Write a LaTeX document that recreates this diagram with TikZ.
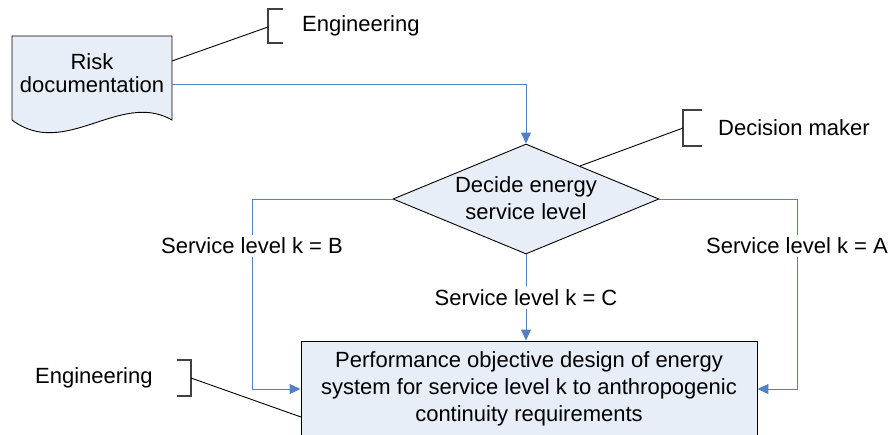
\documentclass[tikz,border=0pt]{standalone}
\usepackage{fontspec}
\setmainfont{Liberation Sans}
\usetikzlibrary{arrows.meta,shapes.geometric}
\definecolor{boxfill}{HTML}{E8EEF8}
\definecolor{flowblue}{HTML}{4F81C4}
\definecolor{brk}{HTML}{404040}
\tikzset{
  txt/.style={font=\fontsize{22}{27}\selectfont, inner sep=0pt, align=center, text=black},
  shapeline/.style={draw=black, line width=0.9pt, fill=boxfill},
  flow/.style={draw=flowblue, line width=1pt},
  flowarrow/.style={flow, -{Triangle[length=11pt,width=10pt,fill=flowblue]}},
  callout/.style={draw=black, line width=0.9pt},
  bracketline/.style={draw=brk, line width=1.2pt},
  lab/.style={txt, fill=white, inner sep=3pt}
}
\begin{document}
\begin{tikzpicture}[x=1pt,y=-1pt]
\useasboundingbox (0,0) rectangle (889,434);
% risk documentation shape
\draw[shapeline] (12,36) -- (172,36) -- (172,120)
  .. controls (120,90) and (65,160) .. (12,120) -- cycle;
\node[txt, font=\fontsize{22}{23}\selectfont] (doc) at (92,73.5) {Risk\\documentation};
\coordinate (docR) at (172,84);
\coordinate (docC) at (172,61);
% diamond
\node[diamond, shapeline, minimum width=266pt, minimum height=110pt, inner sep=0pt] (dec) at (526,199) {};
\node[txt] (dectxt) at (526,198.5) {Decide energy\\service level};
% bottom box
\node[rectangle, shapeline, minimum width=456pt, minimum height=98pt, inner sep=0pt] (perf) at (529,390) {};
\node[txt] (perftxt) at (529,389) {Performance objective design of energy\\system for service level k to anthropogenic\\continuity requirements};
% callouts
\node[txt, anchor=west] (eng1) at (302,26) {Engineering};
\draw[bracketline] (283,9) -- (268,9) -- (268,43) -- (283,43);
\coordinate (b1) at (268,27);
\draw[callout] (docC) -- (b1);
\node[txt, anchor=west] (dm) at (718,128) {Decision maker};
\draw[bracketline] (702,110) -- (683,110) -- (683,146) -- (702,146);
\coordinate (b2) at (683,128);
\coordinate (decC) at (580,166);
\draw[callout] (b2) -- (decC);
\node[txt, anchor=west] (eng2) at (35,378) {Engineering};
\draw[bracketline] (177,360) -- (191,360) -- (191,396) -- (177,396);
\coordinate (b3) at (191,378);
\coordinate (perfC) at (301,417);
\draw[callout] (b3) -- (perfC);
% flows
\draw[flowarrow] (docR) -| (dec.north);
\coordinate (lturn) at (252,199);
\coordinate (rturn) at (797,199);
\draw[flowarrow] (dec.west) -- (lturn) |- (perf.west |- 0,389) node[lab, pos=0.124] (labB) {Service level k = B};
\draw[flowarrow] (dec.east) -- (rturn) |- (perf.east |- 0,389) node[lab, pos=0.124] (labA) {Service level k = A};
\draw[flowarrow] (dec.south) -- (dec.south |- perf.north) node[lab, pos=0.5] (labC) {Service level k = C};
\end{tikzpicture}
\end{document}
